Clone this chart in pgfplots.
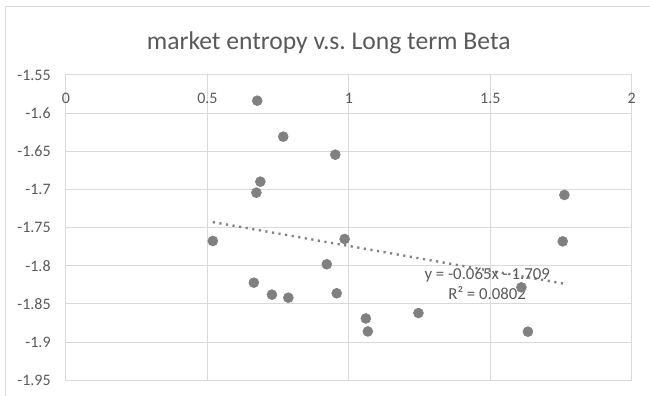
\documentclass[border=0pt]{standalone}
\usepackage{pgfplots}
\pgfplotsset{compat=1.18}
\usepackage{fontspec}
\setmainfont{Carlito}
\frenchspacing
\definecolor{txt}{RGB}{89,89,89}
\definecolor{gridc}{RGB}{217,217,217}
\definecolor{mk}{RGB}{128,128,128}
\begin{document}
\begin{tikzpicture}
\path[use as bounding box] (0,0) rectangle (487.5pt,297pt);
\draw[gridc, line width=0.75pt] (3.75pt,0) -- (3.75pt,291.75pt) -- (487.5pt,291.75pt);
\node[txt, font=\fontsize{19.2}{23}\selectfont] at (246.5pt,264.75pt) {market entropy v.s. Long term Beta};
\begin{axis}[
  at={(49.5pt,11.775pt)}, anchor=south west,
  scale only axis, width=424.3pt, height=229pt,
  xmin=0, xmax=2, ymin=-1.95, ymax=-1.55,
  xtick={0,0.5,1,1.5,2},
  ytick={-1.95,-1.9,-1.85,-1.8,-1.75,-1.7,-1.65,-1.6,-1.55},
  grid=major,
  major grid style={gridc, line width=0.75pt},
  axis line style={gridc, line width=0.75pt},
  tick style={draw=none},
  /pgf/number format/assume math mode=true,
  /pgf/number format/fixed,
  /pgf/number format/precision=2,
  xticklabel pos=upper,
  xticklabel style={anchor=north, yshift=-10pt, text=txt, font=\fontsize{12}{14}\selectfont},
  yticklabel style={xshift=-8pt, text=txt, font=\fontsize{12}{14}\selectfont},
  clip=false,
]
\addplot[only marks, mark=*, mark size=3.75pt, mk, mark options={fill=mk, draw=mk}] coordinates {
(0.676,-1.5837)
(0.768,-1.6308)
(0.952,-1.6544)
(0.687,-1.6898)
(0.673,-1.7042)
(0.519,-1.7675)
(0.985,-1.7649)
(0.664,-1.8221)
(0.728,-1.8378)
(0.786,-1.8418)
(0.922,-1.7980)
(0.957,-1.8360)
(1.060,-1.8690)
(1.067,-1.8860)
(1.246,-1.8619)
(1.610,-1.8282)
(1.633,-1.8863)
(1.756,-1.7680)
(1.762,-1.7072)
};
\addplot[mk, line width=1.8pt, dash pattern=on 1.6pt off 3.4pt] coordinates {(0.519,-1.742735) (1.762,-1.82353)};
\node[txt, align=center, font=\fontsize{12.6}{15}\selectfont] at (axis cs:1.489,-1.8242) {y = -0.065x - 1.709\\R² = 0.0802};
\end{axis}
\end{tikzpicture}
\end{document}
